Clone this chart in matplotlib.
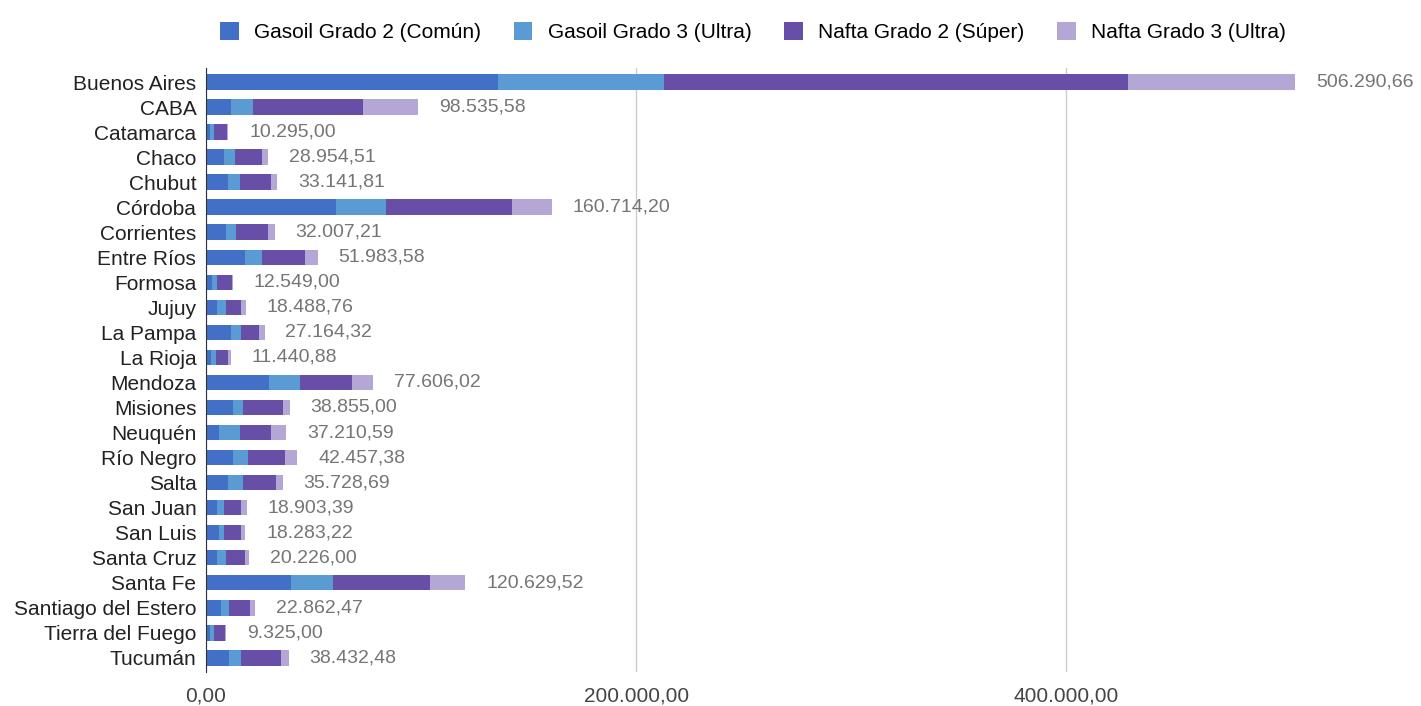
import matplotlib
matplotlib.use("Agg")
import matplotlib.pyplot as plt
import numpy as np

plt.rcParams['font.family'] = ['Liberation Sans', 'DejaVu Sans']

provincias = ["Buenos Aires", "CABA", "Catamarca", "Chaco", "Chubut", "Córdoba",
              "Corrientes", "Entre Ríos", "Formosa", "Jujuy", "La Pampa", "La Rioja",
              "Mendoza", "Misiones", "Neuquén", "Río Negro", "Salta", "San Juan",
              "San Luis", "Santa Cruz", "Santa Fe", "Santiago del Estero",
              "Tierra del Fuego", "Tucumán"]

# miles de unidades por provincia y producto
gasoil_g2 = [135.8, 11.6, 1.9, 8.5, 10.1, 60.5, 9.3, 18.0, 2.9, 5.3, 11.6, 2.3,
             29.3, 12.7, 6.2, 12.7, 10.1, 5.3, 6.2, 5.3, 39.7, 6.8, 1.9, 10.9]
gasoil_g3 = [77.2, 10.4, 1.8, 4.8, 5.6, 23.1, 4.8, 8.0, 2.4, 4.0, 4.8, 2.2,
             14.4, 4.7, 9.6, 7.0, 7.3, 3.2, 2.3, 4.0, 19.2, 4.1, 1.8, 5.5]
nafta_g2 = [215.8, 51.2, 5.9, 12.9, 14.4, 58.6, 14.6, 20.2, 6.9, 7.1, 8.1, 5.6,
            24.1, 18.3, 14.3, 16.9, 15.2, 7.9, 7.9, 8.7, 45.0, 9.6, 5.1, 18.5]
nafta_g3 = [77.5, 25.3, 0.7, 2.75, 3.0, 18.5, 3.3, 5.8, 0.35, 2.1, 2.7, 1.35,
            9.8, 3.2, 7.1, 5.8, 3.1, 2.5, 1.9, 2.2, 16.7, 2.4, 0.5, 3.6]
totales = ["506.290,66", "98.535,58", "10.295,00", "28.954,51", "33.141,81",
           "160.714,20", "32.007,21", "51.983,58", "12.549,00", "18.488,76",
           "27.164,32", "11.440,88", "77.606,02", "38.855,00", "37.210,59",
           "42.457,38", "35.728,69", "18.903,39", "18.283,22", "20.226,00",
           "120.629,52", "22.862,47", "9.325,00", "38.432,48"]

series = [
    ("Gasoil Grado 2 (Común)", gasoil_g2, "#4170c6"),
    ("Gasoil Grado 3 (Ultra)", gasoil_g3, "#5a9bd4"),
    ("Nafta Grado 2 (Súper)", nafta_g2, "#674ea7"),
    ("Nafta Grado 3 (Ultra)", nafta_g3, "#b4a7d6"),
]

fig = plt.figure(figsize=(14.21, 7.06), dpi=100)
ax = fig.add_axes([0.145, 0.048, 0.84, 0.856])

y = np.arange(len(provincias))
left = np.zeros(len(provincias))
for name, vals, col in series:
    vals = np.array(vals) * 1000
    ax.barh(y, vals, left=left, height=0.62, color=col, label=name)
    left += vals

for yi, tot, lab in zip(y, left, totales):
    ax.annotate(lab, (tot, yi), xytext=(15, 0), textcoords="offset points",
                va="center", ha="left", fontsize=14, color="#757575")

ax.set_yticks(y)
ax.set_yticklabels(provincias, fontsize=15, color="#222222")
ax.set_ylim(len(provincias) - 0.43, -0.57)
ax.set_xlim(0, 555000)
ax.set_xticks([0, 200000, 400000])
ax.set_xticklabels(["0,00", "200.000,00", "400.000,00"], fontsize=15, color="#444444")
ax.xaxis.grid(True, color="#cccccc", linewidth=1)
ax.set_axisbelow(True)
for s in ["top", "right", "bottom"]:
    ax.spines[s].set_visible(False)
ax.spines["left"].set_color("#333333")
ax.tick_params(length=0)
ax.tick_params(axis="y", pad=7)
ax.tick_params(axis="x", pad=10)

fig.legend(loc="upper center", bbox_to_anchor=(0.53, 0.995), ncol=4, frameon=False,
           fontsize=15, handlelength=0.9, handleheight=0.9, columnspacing=1.55,
           handletextpad=0.75)

fig.savefig("out.png", dpi=100)
